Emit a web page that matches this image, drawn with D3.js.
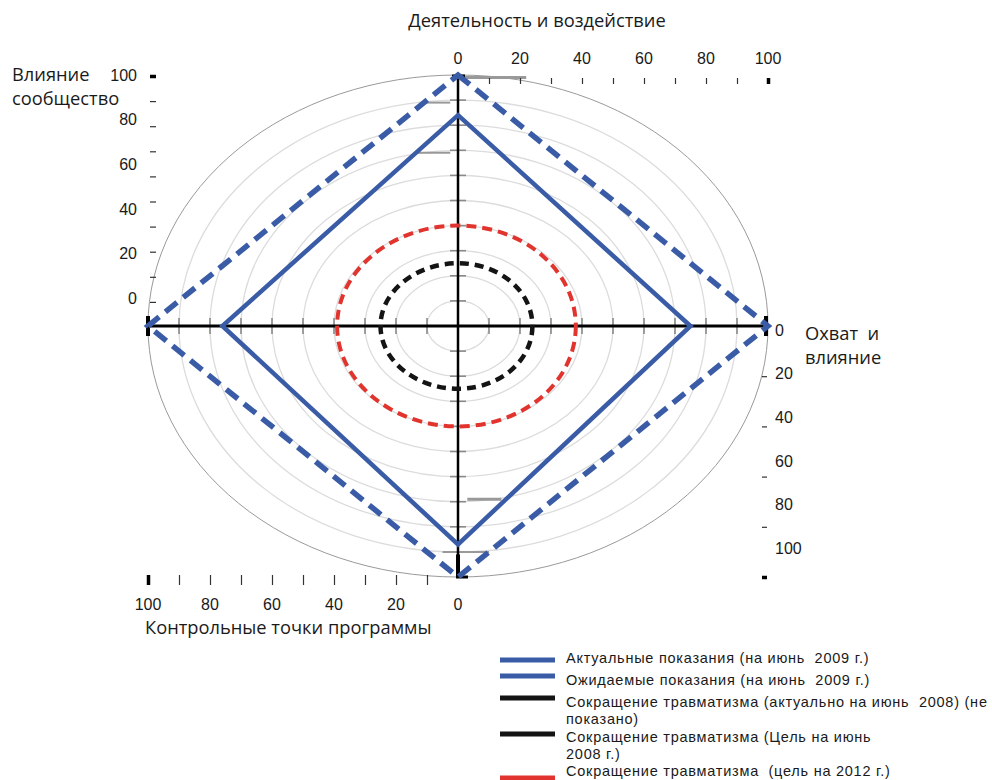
<!DOCTYPE html>
<html><head><meta charset="utf-8">
<script src="https://cdn.jsdelivr.net/npm/d3@7/dist/d3.min.js"></script>
<style>
html,body{margin:0;padding:0;background:#fff;}
svg{display:block;}
text{white-space:pre;}
</style></head>
<body>
<svg id="chart" width="992" height="780"></svg>
<script>
// ---- data ----
const axesNames = ["Деятельность и воздействие", "Охват  и влияние", "Контрольные точки программы", "Влияние сообщество"]; // top, right, bottom, left
const actual2009   = [84, 75, 87, 76];
const expected2009 = [100, 100, 100, 100];
const target2008   = [25, 24, 25, 25];
const target2012   = [40, 38, 40, 39];
const gridLevels   = [10, 20, 30, 40, 50, 60, 70, 80, 90, 100];
const tickValues10 = [0, 10, 20, 30, 40, 50, 60, 70, 80, 90, 100];
const labelValues  = [0, 20, 40, 60, 80, 100];
const rightTicks   = [20, 40, 60, 80, 100];
const legendItems = [
  {label: ["Актуальные показания (на июнь  2009 г.)"], color: "#3a5ca6"},
  {label: ["Ожидаемые показания (на июнь  2009 г.)"], color: "#3a5ca6"},
  {label: ["Сокращение травматизма (актуально на июнь  2008) (не", "показано)"], color: "#141414"},
  {label: ["Сокращение травматизма (Цель на июнь", "2008 г.)"], color: "#141414"},
  {label: ["Сокращение травматизма  (цель на 2012 г.)"], color: "#e2342e"}
];

// ---- layout ----
const svg = d3.select("#chart");
const cx = 458, cy = 326, RX = 310, RY = 251;
const rx = d3.scaleLinear().domain([0, 100]).range([0, RX]);
const ry = d3.scaleLinear().domain([0, 100]).range([0, RY]);
const BLUE = "#3a5ca6", RED = "#e2342e", BLACK = "#141414";

// grid ellipses
svg.append("g").selectAll("ellipse").data(gridLevels).join("ellipse")
  .attr("cx", cx).attr("cy", cy)
  .attr("rx", d => rx(d)).attr("ry", d => ry(d))
  .attr("fill", "none")
  .attr("stroke", d => d === 100 ? "#9a9a9a" : "#dcdcdc")
  .attr("stroke-width", d => d === 100 ? 1 : 1.3);

// point for value on axis i
function pt(v, i) {
  if (i === 0) return [cx, cy - ry(v)];
  if (i === 1) return [cx + rx(v), cy];
  if (i === 2) return [cx, cy + ry(v)];
  return [cx - rx(v), cy];
}

// small grey ticks on central axes
const inner = tickValues10.filter(d => d > 0 && d < 100);
const tg = svg.append("g").attr("stroke", "#8a8a8a").attr("stroke-width", 1.6);
[1, 3].forEach(i => {
  tg.selectAll(null).data(inner).join("line")
    .attr("x1", d => pt(d, i)[0]).attr("x2", d => pt(d, i)[0])
    .attr("y1", cy - 8).attr("y2", cy + 8);
});
[0, 2].forEach(i => {
  tg.selectAll(null).data(inner).join("line")
    .attr("y1", d => pt(d, i)[1]).attr("y2", d => pt(d, i)[1])
    .attr("x1", cx - 8).attr("x2", cx + 8);
});
// stray grey bars along the vertical axis (as in original)
const strayBars = [
  {axis: 0, v: 99, from: 0.2, to: 2.2, w: 3},
  {axis: 0, v: 89, from: -1.1, to: -0.25, w: 2},
  {axis: 0, v: 69, from: -1.3, to: -0.25, w: 2},
  {axis: 2, v: 69, from: 0.3, to: 1.4, w: 3},
  {axis: 2, v: 90, from: -0.5, to: 1.0, w: 2}
];
svg.append("g").selectAll("line").data(strayBars).join("line")
  .attr("x1", d => cx + rx(d.from * 10)).attr("x2", d => cx + rx(d.to * 10))
  .attr("y1", d => pt(d.v, d.axis)[1]).attr("y2", d => pt(d.v, d.axis)[1])
  .attr("stroke", "#999").attr("stroke-width", d => d.w);

// main axes (black)
const ag = svg.append("g").attr("stroke", "#000");
ag.append("line").attr("x1", pt(100, 3)[0]).attr("x2", pt(100, 1)[0]).attr("y1", cy).attr("y2", cy).attr("stroke-width", 3);
ag.append("line").attr("x1", cx).attr("x2", cx).attr("y1", pt(100, 0)[1]).attr("y2", pt(100, 2)[1]).attr("stroke-width", 2.5);
ag.append("line").attr("x1", pt(100, 3)[0]).attr("x2", pt(100, 3)[0]).attr("y1", cy - 10).attr("y2", cy + 10).attr("stroke-width", 4);
ag.append("line").attr("x1", pt(100, 1)[0] - 2).attr("x2", pt(100, 1)[0] - 2).attr("y1", cy - 10).attr("y2", cy + 10).attr("stroke-width", 4);
ag.append("line").attr("x1", cx - 6).attr("x2", cx + 7).attr("y1", pt(100, 0)[1] + 1).attr("y2", pt(100, 0)[1] + 1).attr("stroke-width", 3);
ag.append("line").attr("x1", cx).attr("x2", cx).attr("y1", pt(91, 2)[1]).attr("y2", pt(100, 2)[1]).attr("stroke-width", 4);
ag.append("line").attr("x1", cx - 2).attr("x2", cx + 10).attr("y1", pt(100, 2)[1]).attr("y2", pt(100, 2)[1]).attr("stroke-width", 3);

// series
const lin = d3.line().curve(d3.curveLinearClosed);
const smooth = d3.line().curve(d3.curveCardinalClosed.tension(-0.657));
const series = [
  {values: target2012, gen: smooth, color: RED, width: 4, dash: "10,6"},
  {values: target2008, gen: smooth, color: BLACK, width: 4.5, dash: "9,6"},
  {values: actual2009, gen: lin, color: BLUE, width: 4.5, dash: null},
  {values: expected2009, gen: lin, color: BLUE, width: 5.5, dash: "15,8"}
];
svg.append("g").selectAll("path").data(series).join("path")
  .attr("d", s => s.gen(s.values.map((v, i) => pt(v, i))))
  .attr("fill", "none").attr("stroke", s => s.color)
  .attr("stroke-width", s => s.width)
  .attr("stroke-dasharray", s => s.dash)
  .attr("stroke-linejoin", "miter");

// ---- outer scales ----
const FONT = "'Liberation Sans', Arial, sans-serif";
function styleAxis(g, ends) {
  g.select(".domain").remove();
  g.selectAll(".tick line").attr("stroke", d => d === ends ? "#000" : "#333")
    .attr("stroke-width", d => d === ends ? 3.5 : 1.2);
}
function numLabels(data, xf, yf, anchor) {
  svg.append("g").selectAll("text").data(data).join("text")
    .attr("x", xf).attr("y", yf).attr("dy", "0.36em").attr("text-anchor", anchor)
    .attr("font-family", FONT).attr("font-size", 16).attr("fill", "#1a1a1a").text(d => d);
}
// top
const topScale = d3.scaleLinear().domain([0, 100]).range([cx, cx + RX]);
const gTop = svg.append("g").attr("transform", "translate(0,84)")
  .call(d3.axisTop(topScale).tickValues(tickValues10.filter(d => d > 0)).tickSize(6).tickFormat(() => ""));
styleAxis(gTop, 100);
numLabels(labelValues, d => topScale(d), 58, "middle");
// bottom
const botScale = d3.scaleLinear().domain([0, 100]).range([cx, cx - RX]);
const gBot = svg.append("g").attr("transform", "translate(0,575)")
  .call(d3.axisBottom(botScale).tickValues(tickValues10.filter(d => d > 0)).tickSize(10).tickFormat(() => ""));
styleAxis(gBot, 100);
numLabels(labelValues, d => botScale(d), 604, "middle");
// left
const leftScale = d3.scaleLinear().domain([0, 100]).range([cy + 1, cy + 1 - RY]);
const gLeft = svg.append("g").attr("transform", "translate(156,0)")
  .call(d3.axisLeft(leftScale).tickValues(tickValues10.filter(d => d > 0)).tickSize(6).tickFormat(() => ""));
styleAxis(gLeft, 100);
const leftLabel = d3.scaleLinear().domain([0, 100]).range([298, 75]);
numLabels(labelValues, 137, d => leftLabel(d), "end");
// right
const rightScale = d3.scaleLinear().domain([0, 100]).range([cy, cy + RY]);
const gRight = svg.append("g").attr("transform", "translate(762,0)")
  .call(d3.axisRight(rightScale).tickValues(rightTicks).tickSize(5).tickFormat(() => ""));
styleAxis(gRight, 100);
const rightLabel = d3.scaleLinear().domain([0, 100]).range([330, 548]);
numLabels(labelValues, 775, d => rightLabel(d), "start");

// ---- axis titles ----
const TFONT = "'Open Sans', 'Noto Sans', sans-serif";
function title(x, y, lines, anchor) {
  const t = svg.append("text").attr("x", x).attr("y", y).attr("text-anchor", anchor || "start")
    .attr("font-family", TFONT).attr("font-size", 18.3).attr("fill", "#1a1a1a");
  lines.forEach((l, i) => t.append("tspan").attr("x", x).attr("dy", i ? 24 : 0).text(l));
}
title(537, 27, [axesNames[0]], "middle");
title(805, 340, ["Охват  и", "влияние"]);
title(145, 634, [axesNames[2]]);
title(12, 81, ["Влияние", "сообщество"]);

// ---- legend ----
const lg = svg.append("g");
const swatchY = [660, 676, 698, 734, 778];
const textY   = [663, 685, 707, 742, 776];
legendItems.forEach((it, i) => {
  const g = lg.append("g");
  g.append("rect").attr("x", 500).attr("y", swatchY[i] - 2.5).attr("width", 55).attr("height", 5).attr("fill", it.color);
  const t = g.append("text").attr("x", 566).attr("y", textY[i]).attr("font-family", FONT)
    .attr("font-size", 14.5).attr("letter-spacing", 0.75).attr("fill", "#1a1a1a");
  it.label.forEach((l, j) => t.append("tspan").attr("x", 566).attr("dy", j ? 17 : 0).text(l));
});
</script>
</body></html>
